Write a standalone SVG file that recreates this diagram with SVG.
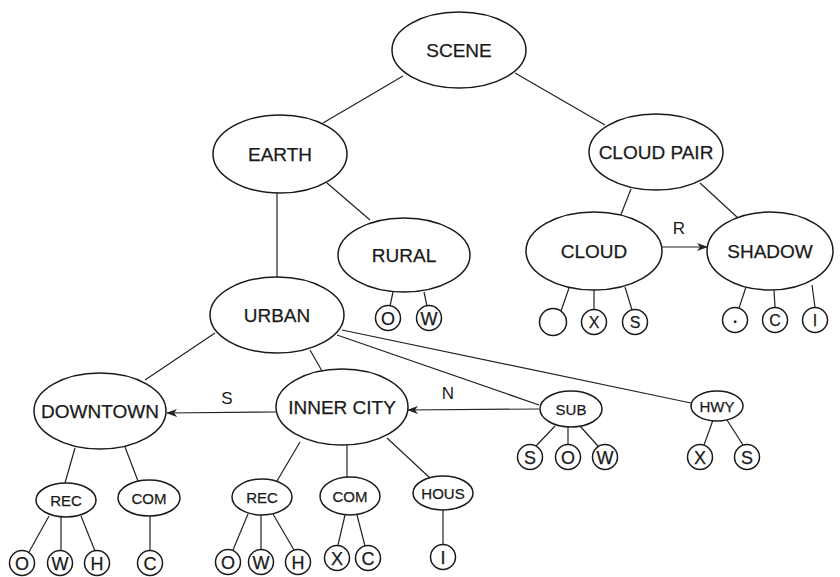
<svg xmlns="http://www.w3.org/2000/svg" width="840" height="577" viewBox="0 0 840 577">
<defs>
<marker id="arr" markerWidth="12" markerHeight="10" refX="10" refY="5" orient="auto" markerUnits="userSpaceOnUse">
<path d="M0,1 L11,5 L0,9 L3,5 z" fill="#222"/>
</marker>
<style>
.n ellipse, .n circle { fill: #fff; stroke: #1a1a1a; stroke-width: 1.5; }
.n text { font-family: "Liberation Sans", Arial, sans-serif; fill: #1a1a1a; stroke: #1a1a1a; stroke-width: 0.25; text-anchor: middle; }
.big { font-size: 19px; }
.sm { font-size: 15px; }
.lt { font-size: 18px; }
.ltc { font-size: 16px; }
#edges line { stroke: #222; stroke-width: 1.2; fill: none; }
#edges .a { marker-end: url(#arr); }
.lbl { font-family: "Liberation Sans", Arial, sans-serif; font-size: 17px; fill: #1a1a1a; text-anchor: middle; }
</style>
</defs>
<rect width="840" height="577" fill="#fff"/>
<g id="edges">
<line x1="403" y1="76" x2="323" y2="123"/>
<line x1="515" y1="73" x2="605" y2="125"/>
<line x1="277" y1="193" x2="277" y2="277"/>
<line x1="327" y1="183" x2="370" y2="220"/>
<line x1="631" y1="189" x2="620" y2="217"/>
<line x1="700" y1="183" x2="738" y2="218"/>
<line class="a" x1="662" y1="247" x2="707" y2="247"/>
<line x1="569" y1="288" x2="561" y2="311"/>
<line x1="594" y1="290" x2="594" y2="310"/>
<line x1="625" y1="287" x2="632" y2="310"/>
<line x1="746" y1="287" x2="739" y2="308"/>
<line x1="774" y1="290" x2="775" y2="307"/>
<line x1="812" y1="285" x2="815" y2="307"/>
<line x1="393" y1="292" x2="390" y2="306"/>
<line x1="424" y1="292" x2="427" y2="306"/>
<line x1="215" y1="333" x2="145" y2="380"/>
<line x1="310" y1="350" x2="322" y2="371"/>
<line x1="337" y1="335" x2="539" y2="405"/>
<line x1="342" y1="330" x2="691" y2="403"/>
<line class="a" x1="539" y1="409" x2="408" y2="410"/>
<line class="a" x1="276" y1="412" x2="167" y2="413"/>
<line x1="555" y1="426" x2="536" y2="446"/>
<line x1="568" y1="427" x2="568" y2="444"/>
<line x1="580" y1="426" x2="598" y2="446"/>
<line x1="713" y1="420" x2="704" y2="445"/>
<line x1="727" y1="420" x2="743" y2="445"/>
<line x1="75" y1="448" x2="65" y2="483"/>
<line x1="125" y1="447" x2="138" y2="481"/>
<line x1="49" y1="516" x2="29" y2="552"/>
<line x1="61" y1="517" x2="61" y2="550"/>
<line x1="81" y1="516" x2="95" y2="551"/>
<line x1="150" y1="516" x2="150" y2="550"/>
<line x1="300" y1="442" x2="277" y2="481"/>
<line x1="347" y1="445" x2="347" y2="477"/>
<line x1="387" y1="438" x2="430" y2="478"/>
<line x1="248" y1="514" x2="233" y2="550"/>
<line x1="261" y1="515" x2="261" y2="549"/>
<line x1="273" y1="514" x2="294" y2="550"/>
<line x1="345" y1="515" x2="338" y2="545"/>
<line x1="357" y1="515" x2="365" y2="546"/>
<line x1="443" y1="510" x2="443" y2="544"/>
<text class="lbl" x="679" y="234">R</text>
<text class="lbl" x="227" y="404">S</text>
<text class="lbl" x="448" y="399">N</text>
</g>
<g id="scene" class="n"><ellipse cx="459" cy="50" rx="67" ry="38"/><text class="big" x="459" y="57">SCENE</text></g>
<g id="earth" class="n"><ellipse cx="280" cy="154" rx="67" ry="39"/><text class="big" x="280" y="161">EARTH</text></g>
<g id="cloudpair" class="n"><ellipse cx="656" cy="152" rx="67" ry="38"/><text class="big" x="656" y="159">CLOUD PAIR</text></g>
<g id="cloud" class="n"><ellipse cx="594" cy="251" rx="68" ry="39"/><text class="big" x="594" y="258">CLOUD</text></g>
<g id="shadow" class="n"><ellipse cx="770" cy="251" rx="63" ry="39"/><text class="big" x="770" y="258">SHADOW</text></g>
<g id="rural" class="n"><ellipse cx="404" cy="255" rx="66" ry="37"/><text class="big" x="404" y="262">RURAL</text></g>
<g id="urban" class="n"><ellipse cx="277" cy="315" rx="67" ry="38"/><text class="big" x="277" y="322">URBAN</text></g>
<g id="downtown" class="n"><ellipse cx="100" cy="411" rx="66" ry="38"/><text class="big" x="100" y="418">DOWNTOWN</text></g>
<g id="innercity" class="n"><ellipse cx="342" cy="407" rx="66" ry="38"/><text class="big" x="342" y="414">INNER CITY</text></g>
<g id="sub" class="n"><ellipse cx="571" cy="409" rx="31" ry="18"/><text class="sm" x="571" y="414.5">SUB</text></g>
<g id="hwy" class="n"><ellipse cx="717" cy="406" rx="26" ry="15"/><text class="sm" x="717" y="411.5">HWY</text></g>
<g id="rec1" class="n"><ellipse cx="66" cy="500" rx="30" ry="17"/><text class="sm" x="66" y="505.5">REC</text></g>
<g id="com1" class="n"><ellipse cx="149" cy="498" rx="31" ry="18"/><text class="sm" x="149" y="503.5">COM</text></g>
<g id="rec2" class="n"><ellipse cx="262" cy="497" rx="30" ry="18"/><text class="sm" x="262" y="502.5">REC</text></g>
<g id="com2" class="n"><ellipse cx="350" cy="496" rx="30" ry="19"/><text class="sm" x="350" y="501.5">COM</text></g>
<g id="hous" class="n"><ellipse cx="443" cy="493" rx="30" ry="17"/><text class="sm" x="443" y="498.5">HOUS</text></g>
<g id="rural-o" class="n"><circle cx="388" cy="318" r="12.5"/><text class="lt" x="388" y="324.5">O</text></g>
<g id="rural-w" class="n"><circle cx="429" cy="318" r="12.5"/><text class="lt" x="429" y="324.5">W</text></g>
<g id="cloud-empty" class="n"><circle cx="553" cy="322" r="13.5"/></g>
<g id="cloud-x" class="n"><circle cx="594" cy="322" r="12.5"/><text class="ltc" x="594" y="328">X</text></g>
<g id="cloud-s" class="n"><circle cx="635" cy="322" r="12.5"/><text class="ltc" x="635" y="328">S</text></g>
<g id="shadow-star" class="n"><circle cx="735" cy="320" r="12.5"/><text x="735" y="325" style="font-size:9px">•</text></g>
<g id="shadow-c" class="n"><circle cx="775" cy="320" r="12.5"/><text class="ltc" x="775" y="326">C</text></g>
<g id="shadow-i" class="n"><circle cx="815" cy="320" r="12.5"/><text class="ltc" x="815" y="326">I</text></g>
<g id="sub-s" class="n"><circle cx="530" cy="457" r="12.5"/><text class="lt" x="530" y="463.5">S</text></g>
<g id="sub-o" class="n"><circle cx="568" cy="457" r="12.5"/><text class="lt" x="568" y="463.5">O</text></g>
<g id="sub-w" class="n"><circle cx="605" cy="457" r="12.5"/><text class="lt" x="605" y="463.5">W</text></g>
<g id="hwy-x" class="n"><circle cx="700" cy="457" r="12.5"/><text class="lt" x="700" y="463.5">X</text></g>
<g id="hwy-s" class="n"><circle cx="747" cy="457" r="12.5"/><text class="lt" x="747" y="463.5">S</text></g>
<g id="rec1-o" class="n"><circle cx="22" cy="563" r="12.5"/><text class="lt" x="22" y="569.5">O</text></g>
<g id="rec1-w" class="n"><circle cx="60" cy="563" r="12.5"/><text class="lt" x="60" y="569.5">W</text></g>
<g id="rec1-h" class="n"><circle cx="97" cy="563" r="12.5"/><text class="lt" x="97" y="569.5">H</text></g>
<g id="com1-c" class="n"><circle cx="150" cy="563" r="12.5"/><text class="lt" x="150" y="569.5">C</text></g>
<g id="rec2-o" class="n"><circle cx="228" cy="562" r="12.5"/><text class="lt" x="228" y="568.5">O</text></g>
<g id="rec2-w" class="n"><circle cx="261" cy="562" r="12.5"/><text class="lt" x="261" y="568.5">W</text></g>
<g id="rec2-h" class="n"><circle cx="298" cy="562" r="12.5"/><text class="lt" x="298" y="568.5">H</text></g>
<g id="com2-x" class="n"><circle cx="337" cy="558" r="12.5"/><text class="lt" x="337" y="564.5">X</text></g>
<g id="com2-c" class="n"><circle cx="368" cy="558" r="12.5"/><text class="lt" x="368" y="564.5">C</text></g>
<g id="hous-i" class="n"><circle cx="443" cy="557" r="12.5"/><text class="lt" x="443" y="563.5">I</text></g>
</svg>
